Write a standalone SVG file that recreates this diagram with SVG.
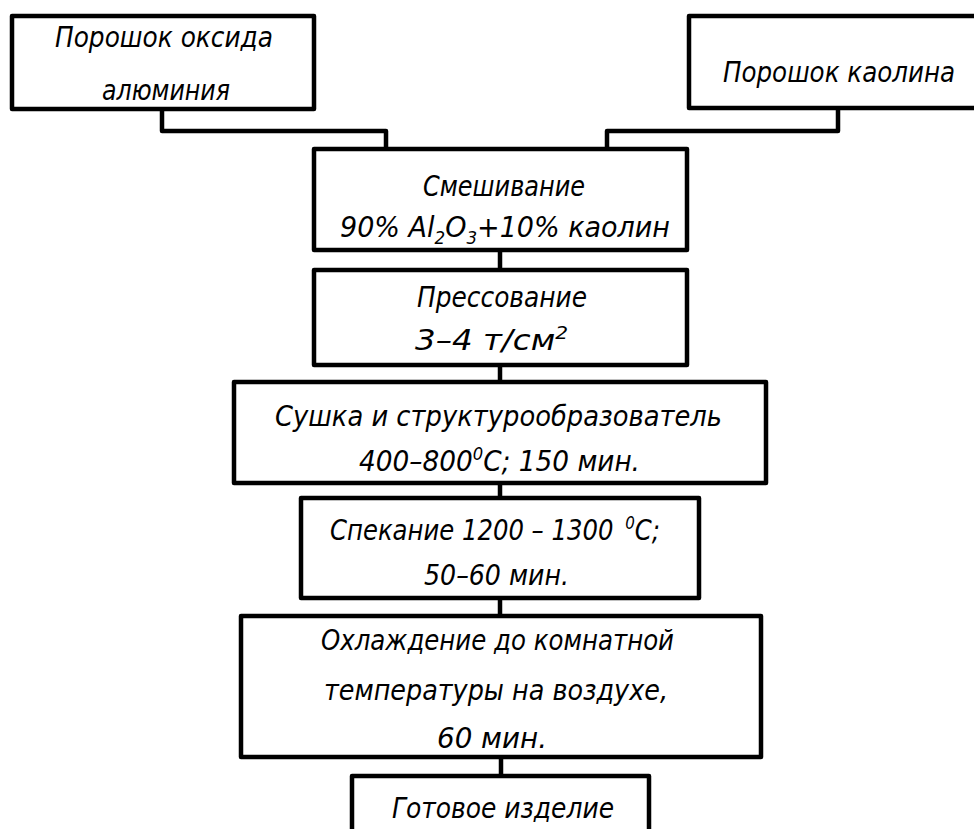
<svg xmlns="http://www.w3.org/2000/svg" width="974" height="829" viewBox="0 0 974 829">
<style>
.box{fill:#fff;stroke:#000;stroke-width:4.5;stroke-linejoin:round}
.con{fill:none;stroke:#000;stroke-width:4.5;stroke-linejoin:round}
text{font-family:"DejaVu Sans","Liberation Sans",sans-serif;font-style:italic;font-size:29px;fill:#000}
.s{font-size:18px}
</style>
<rect width="974" height="829" fill="#fff"/>
<g id="connectors">
<path class="con" d="M162 109 V131 H386 V150"/>
<path class="con" d="M838 108 V131 H607 V150"/>
<path class="con" d="M500 250 V270"/>
<path class="con" d="M500 365 V382"/>
<path class="con" d="M500 483 V498"/>
<path class="con" d="M500 598 V616"/>
<path class="con" d="M501 757 V776"/>
</g>
<g id="n1">
<rect class="box" x="12" y="16" width="302" height="93"/>
<text x="55" y="47" textLength="218" lengthAdjust="spacingAndGlyphs">Порошок оксида</text>
<text x="102" y="100" textLength="128" lengthAdjust="spacingAndGlyphs">алюминия</text>
</g>
<g id="n2">
<rect class="box" x="689" y="16" width="290" height="92"/>
<text x="723" y="82" textLength="232" lengthAdjust="spacingAndGlyphs">Порошок каолина</text>
</g>
<g id="n3">
<rect class="box" x="314" y="149" width="373" height="101"/>
<text x="423" y="196" textLength="162" lengthAdjust="spacingAndGlyphs">Смешивание</text>
<text x="340" y="237" textLength="330" lengthAdjust="spacingAndGlyphs">90% Al<tspan class="s" dy="7">2</tspan><tspan dy="-7">O</tspan><tspan class="s" dy="7">3</tspan><tspan dy="-7">+10% каолин</tspan></text>
</g>
<g id="n4">
<rect class="box" x="314" y="270" width="373" height="95"/>
<text x="417" y="307" textLength="170" lengthAdjust="spacingAndGlyphs">Прессование</text>
<text x="415" y="350" textLength="153" lengthAdjust="spacingAndGlyphs">3–4 т/см<tspan class="s" dy="-11">2</tspan></text>
</g>
<g id="n5">
<rect class="box" x="234" y="382" width="532" height="101"/>
<text x="275" y="426" textLength="447" lengthAdjust="spacingAndGlyphs">Сушка и структурообразователь</text>
<text x="359" y="471" textLength="281" lengthAdjust="spacingAndGlyphs">400–800<tspan class="s" dy="-11">0</tspan><tspan dy="11">С; 150 мин.</tspan></text>
</g>
<g id="n6">
<rect class="box" x="301" y="498" width="398" height="100"/>
<text x="330" y="540" textLength="330" lengthAdjust="spacingAndGlyphs">Спекание 1200 – 1300<tspan class="s" dx="14" dy="-11">0</tspan><tspan dy="11">С;</tspan></text>
<text x="424" y="585" textLength="145" lengthAdjust="spacingAndGlyphs">50–60 мин.</text>
</g>
<g id="n7">
<rect class="box" x="241" y="616" width="520" height="141"/>
<text x="321" y="650" textLength="353" lengthAdjust="spacingAndGlyphs">Охлаждение до комнатной</text>
<text x="324" y="700" textLength="344" lengthAdjust="spacingAndGlyphs">температуры на воздухе,</text>
<text x="437" y="748" textLength="110" lengthAdjust="spacingAndGlyphs">60 мин.</text>
</g>
<g id="n8">
<rect class="box" x="352" y="776" width="297" height="70"/>
<text x="392" y="818" textLength="222" lengthAdjust="spacingAndGlyphs">Готовое изделие</text>
</g>
</svg>
